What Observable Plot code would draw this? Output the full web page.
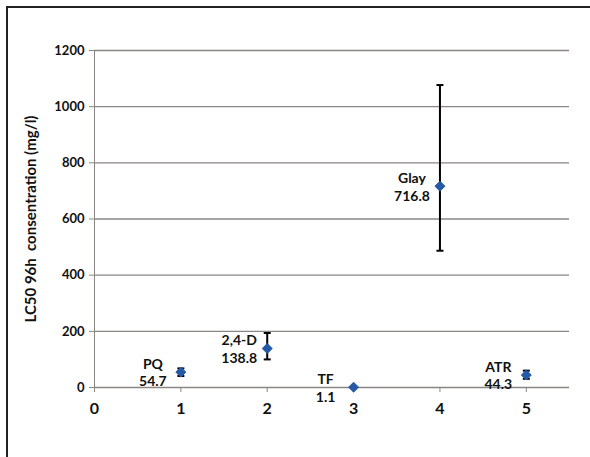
<!DOCTYPE html>
<html>
<head>
<meta charset="utf-8">
<script src="https://cdn.jsdelivr.net/npm/d3@7"></script>
<script src="https://cdn.jsdelivr.net/npm/@observablehq/plot@0.6"></script>
<style>
  html, body { margin: 0; padding: 0; background: #fff; }
  #wrap { position: relative; width: 590px; height: 457px; overflow: hidden; }
  #frame { position: absolute; left: 6px; top: 6px; width: 700px; height: 600px; border-left: 2.5px solid #222; border-top: 2.5px solid #222; box-sizing: border-box; }
  #chart { position: absolute; left: 0; top: 0; }
</style>
</head>
<body>
<div id="wrap"><div id="frame"></div><div id="chart"></div></div>
<script>
const categories = ["PQ", "2,4-D", "TF", "Glay", "ATR"];
const xPos = [1, 2, 3, 4, 5];
const values = [54.7, 138.8, 1.1, 716.8, 44.3];
const lower = [41, 100, 1.1, 487, 31];
const upper = [68, 194, 1.1, 1077, 60];
const yTicks = [0, 200, 400, 600, 800, 1000, 1200];
const xTicks = [0, 1, 2, 3, 4, 5];

const data = categories.map((c, i) => ({
  name: c, x: xPos[i], v: values[i], lo: lower[i], hi: upper[i],
  label: c + "\n" + values[i]
}));
const bars = data.filter(d => d.hi - d.lo > 1);
const caps = bars.flatMap(d => [{ x: d.x, y: d.lo }, { x: d.x, y: d.hi }]);

const font = "Lato, 'Open Sans', sans-serif";
const grid = "#8a8684";
const capSymbol = { draw(ctx, size) { ctx.moveTo(-3.5, 0); ctx.lineTo(3.5, 0); } };

const chart = Plot.plot({
  width: 590,
  height: 457,
  marginLeft: 94,
  marginRight: 21,
  marginTop: 50,
  marginBottom: 70,
  style: { fontFamily: font, fontWeight: "bold", color: "#111", background: "transparent" },
  x: { type: "linear", domain: [0, 5.5], label: null },
  y: { type: "linear", domain: [0, 1200], label: null },
  marks: [
    Plot.ruleY(yTicks, { stroke: grid, strokeWidth: 1.3 }),
    Plot.ruleX([0], { stroke: grid, strokeWidth: 1 }),
    Plot.axisY({ ticks: yTicks, tickFormat: d => String(d), tickSize: 5, tickPadding: 5, stroke: grid, fontSize: 13, fontWeight: "bold",
      label: "LC50 96h  consentration (mg/l)", labelAnchor: "center", labelArrow: "none", labelOffset: 69 }),
    Plot.axisX({ ticks: xTicks, tickFormat: d => String(d), tickSize: 5, tickPadding: 10, stroke: grid, fontSize: 16, fontWeight: "bold", label: null }),
    Plot.ruleX(bars, { x: "x", y1: "lo", y2: "hi", stroke: "#000", strokeWidth: 2 }),
    Plot.dot(caps, { x: "x", y: "y", symbol: capSymbol, stroke: "#000", strokeWidth: 2, r: 4 }),
    Plot.dot(data, { x: "x", y: "v", symbol: "diamond2", fill: "#2459a6", stroke: "#2459a6", strokeWidth: 1, r: 4.5 }),
    Plot.text(data, { x: "x", y: "v", text: "label", dx: -28, textAnchor: "middle", lineHeight: 1.25,
      fontSize: 14, fontWeight: "bold", fill: "#111" })
  ]
});
const lab = chart.querySelector('g[aria-label="y-axis label"]');
if (lab) { lab.setAttribute("font-size", "15"); lab.querySelectorAll("text").forEach(t => t.setAttribute("font-size", "15")); }
document.getElementById("chart").appendChild(chart);
</script>
</body>
</html>
